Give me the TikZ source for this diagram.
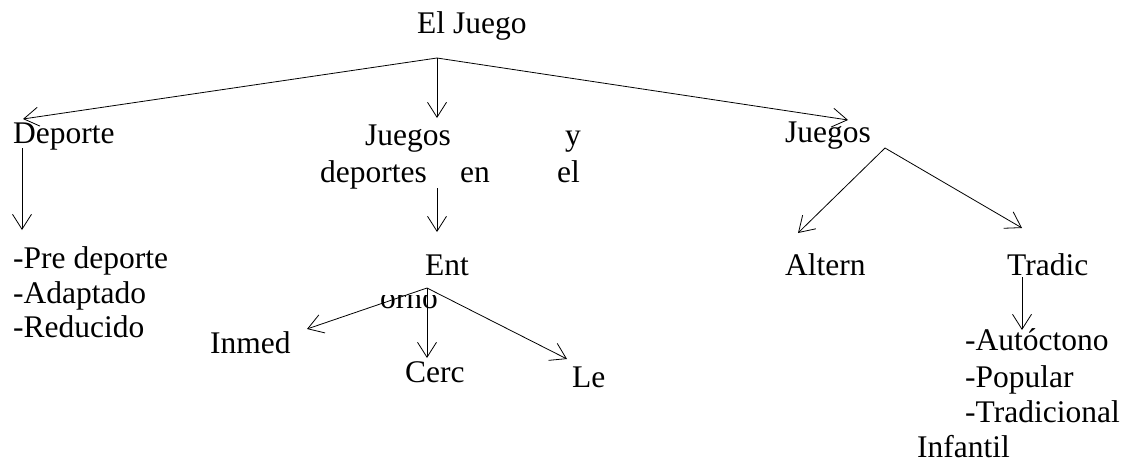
\documentclass[tikz,border=0pt]{standalone}
\usepackage{fontspec}
\setmainfont{Liberation Serif}
\newfontfamily\tnr{Liberation Serif}
\usepackage{tikz}
\usetikzlibrary{arrows.meta}
\usetikzlibrary{positioning}

\tikzset{
	lbl/.style={font=\tnr\fontsize{31.5}{36}\selectfont, inner sep=0pt, anchor=base west},
	arr/.style={-{Straight Barb[length=15pt,width=19pt]}, line width=0.8pt}
}

\begin{document}
\begin{tikzpicture}[x=1pt,y=-1pt]
	\useasboundingbox (0,0) rectangle (1139,463);
	% top
	\node [lbl] at (417,33) (JUEGO) {El Juego};
	\coordinate (TOP) at (437,58);
	% left branch
	\node [lbl] at (13,143) (DEP) {Deporte};
	\node [lbl] at (13,268) (PRE) {-Pre deporte};
	\node [lbl] at (13,303) (ADA) {-Adaptado};
	\node [lbl] at (13,337) (RED) {-Reducido};
	\coordinate (DEPin) at (23,119);
	\coordinate (DEPout) at (22,148);
	\coordinate (PREin) at (22,230);
	% middle branch
	\node [lbl] at (365,145) (JD1) {Juegos};
	\node [lbl] at (565,145) (JD2) {y};
	\node [lbl] at (320,182) (JD3) {deportes};
	\node [lbl] at (460,182) (JD4) {en};
	\node [lbl] at (557,182) (JD5) {el};
	\coordinate (JDin) at (437,118);
	\coordinate (JDout) at (437,188);
	\node [lbl] at (425,275) (ENT) {Ent};
	\begin{scope}
		\clip (370,295) rectangle (450,330);
		\node [lbl] at (380,308) (ORNO) {orno};
	\end{scope}
	\coordinate (ENTin) at (437,232);
	\coordinate (ENTout) at (427,288);
	\node [lbl] at (210,353) (INM) {Inmed};
	\node [lbl] at (405,382) (CER) {Cerc};
	\node [lbl] at (572,387) (LE) {Le};
	\coordinate (INMin) at (307,329);
	\coordinate (CERin) at (427,358);
	\coordinate (LEin) at (567,359);
	% right branch
	\node [lbl] at (785,142) (JUE) {Juegos};
	\coordinate (JUEin) at (848,120);
	\coordinate (JUEout) at (885,148);
	\node [lbl] at (785,275) (ALT) {Altern};
	\node [lbl] at (1007,275) (TRA) {Tradic};
	\coordinate (ALTin) at (798,233);
	\coordinate (TRAin) at (1022,228);
	\coordinate (TRAout) at (1022,277);
	\node [lbl] at (965,350) (AUT) {-Autóctono};
	\node [lbl] at (965,387) (POP) {-Popular};
	\node [lbl] at (965,422) (TRD) {-Tradicional};
	\node [lbl] at (917,457) (INF) {Infantil};
	\coordinate (AUTin) at (1022,330);
	% arrows
	\draw [arr] (TOP) -- (DEPin);
	\draw [arr] (TOP) -- (JDin);
	\draw [arr] (TOP) -- (JUEin);
	\draw [arr] (DEPout) -- (PREin);
	\draw [arr] (JDout) -- (ENTin);
	\draw [arr] (ENTout) -- (INMin);
	\draw [arr] (ENTout) -- (CERin);
	\draw [arr] (ENTout) -- (LEin);
	\draw [arr] (JUEout) -- (ALTin);
	\draw [arr] (JUEout) -- (TRAin);
	\draw [arr] (TRAout) -- (AUTin);
\end{tikzpicture}
\end{document}
